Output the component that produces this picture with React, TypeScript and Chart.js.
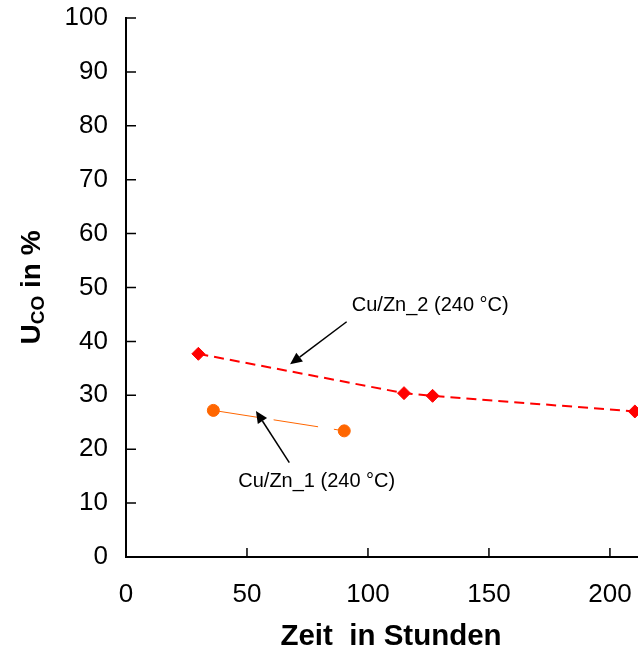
import React, { useEffect, useRef } from "react";
import { Chart, registerables } from "chart.js";

Chart.register(...registerables);

// ---- data ----
const xTickValues = [0, 50, 100, 150, 200];
const yTickValues = [0, 10, 20, 30, 40, 50, 60, 70, 80, 90, 100];
const cuzn2Hours = [29.9, 114.9, 126.7, 210.3];
const cuzn2Uco = [37.7, 30.4, 29.9, 27.0];
const cuzn1Hours = [36.1, 90.2];
const cuzn1Uco = [27.2, 23.4];

// annotations (data coordinates)
const annotationTexts = ["Cu/Zn_2 (240 °C)", "Cu/Zn_1 (240 °C)"];
const annotationTextAt = [
  [93.3, 46.6],
  [46.4, 14.0],
];
const annotationArrowFrom = [
  [91.2, 43.65],
  [67.5, 17.5],
];
const annotationArrowTo = [
  [67.8, 35.75],
  [53.7, 27.1],
];

const xTitle = "Zeit  in Stunden";
const yTitleMain = "U";
const yTitleSub = "CO";
const yTitleRest = " in %";

const FONT = "'Liberation Sans', Arial, sans-serif";

const customPlugin = {
  id: "customDecor",
  afterDraw(chart: any) {
    const { ctx, chartArea, scales } = chart;
    const x = scales.x;
    const y = scales.y;
    ctx.save();

    // inside tick marks
    ctx.strokeStyle = "#000";
    ctx.lineWidth = 1.5;
    ctx.beginPath();
    yTickValues.forEach((v) => {
      const py = y.getPixelForValue(v);
      ctx.moveTo(chartArea.left, py);
      ctx.lineTo(chartArea.left + 10, py);
    });
    xTickValues.forEach((v) => {
      const px = x.getPixelForValue(v);
      ctx.moveTo(px, chartArea.bottom);
      ctx.lineTo(px, chartArea.bottom - 9);
    });
    ctx.stroke();

    // annotations
    ctx.fillStyle = "#000";
    ctx.font = `20px ${FONT}`;
    ctx.textAlign = "left";
    ctx.textBaseline = "middle";
    annotationTexts.forEach((t, i) => {
      const [dx, dy] = annotationTextAt[i];
      ctx.fillText(t, x.getPixelForValue(dx), y.getPixelForValue(dy));
    });

    annotationArrowFrom.forEach((from, i) => {
      const to = annotationArrowTo[i];
      const x1 = x.getPixelForValue(from[0]);
      const y1 = y.getPixelForValue(from[1]);
      const x2 = x.getPixelForValue(to[0]);
      const y2 = y.getPixelForValue(to[1]);
      const ang = Math.atan2(y2 - y1, x2 - x1);
      const headLen = 12;
      const headW = 5.5;
      const bx = x2 - headLen * Math.cos(ang);
      const by = y2 - headLen * Math.sin(ang);
      ctx.strokeStyle = "#000";
      ctx.lineWidth = 1.5;
      ctx.beginPath();
      ctx.moveTo(x1, y1);
      ctx.lineTo(bx, by);
      ctx.stroke();
      ctx.beginPath();
      ctx.moveTo(x2, y2);
      ctx.lineTo(bx + headW * Math.sin(ang), by - headW * Math.cos(ang));
      ctx.lineTo(bx - headW * Math.sin(ang), by + headW * Math.cos(ang));
      ctx.closePath();
      ctx.fill();
    });

    // x title
    ctx.font = `bold 29.5px ${FONT}`;
    ctx.textAlign = "center";
    ctx.textBaseline = "alphabetic";
    ctx.fillText(xTitle, 391, 645);

    // y title with subscript
    ctx.translate(40, (chartArea.top + chartArea.bottom) / 2);
    ctx.rotate(-Math.PI / 2);
    ctx.textAlign = "left";
    const mainFont = `bold 28px ${FONT}`;
    const subFont = `bold 19px ${FONT}`;
    ctx.font = mainFont;
    const wU = ctx.measureText(yTitleMain).width;
    const wRest = ctx.measureText(yTitleRest).width;
    ctx.font = subFont;
    const wSub = ctx.measureText(yTitleSub).width;
    const total = wU + wSub + wRest;
    let sx = -total / 2;
    ctx.font = mainFont;
    ctx.fillText(yTitleMain, sx, 0);
    sx += wU;
    ctx.font = subFont;
    ctx.fillText(yTitleSub, sx, 4);
    sx += wSub;
    ctx.font = mainFont;
    ctx.fillText(yTitleRest, sx, 0);

    ctx.restore();
  },
};

export default function App() {
  const ref = useRef<HTMLCanvasElement | null>(null);

  useEffect(() => {
    document.body.style.margin = "0";
    const canvas = ref.current;
    if (!canvas) return;
    const chart = new Chart(canvas, {
      type: "scatter",
      data: {
        datasets: [
          {
            label: "Cu/Zn_2 (240 °C)",
            data: cuzn2Hours.map((h, i) => ({ x: h, y: cuzn2Uco[i] })),
            showLine: true,
            borderColor: "#FF0000",
            backgroundColor: "#FF0000",
            borderWidth: 2,
            borderDash: [10, 6],
            pointStyle: "rectRot",
            pointRadius: 6.5,
            pointBorderWidth: 1,
            clip: false as any,
          },
          {
            label: "Cu/Zn_1 (240 °C)",
            data: cuzn1Hours.map((h, i) => ({ x: h, y: cuzn1Uco[i] })),
            showLine: true,
            borderColor: "#FF6600",
            backgroundColor: "#FF6600",
            borderWidth: 1,
            borderDash: [45, 16],
            pointStyle: "circle",
            pointRadius: 6,
            pointBorderWidth: 1,
            clip: false as any,
          },
        ],
      },
      options: {
        responsive: false,
        animation: false,
        layout: {
          autoPadding: false,
          padding: { top: 18, right: 0, left: 0, bottom: 0 },
        },
        plugins: {
          legend: { display: false },
          tooltip: { enabled: false },
        },
        scales: {
          x: {
            type: "linear",
            min: 0,
            max: 211.6,
            grid: { display: false, drawTicks: false },
            border: { display: true, color: "#000", width: 2 },
            ticks: {
              stepSize: 50,
              includeBounds: false,
              color: "#000",
              font: { family: FONT, size: 26 },
              padding: 22,
              maxRotation: 0,
            },
            afterFit: (s: any) => {
              s.height = 93;
              s.paddingLeft = 0;
              s.paddingRight = 0;
            },
          },
          y: {
            type: "linear",
            min: 0,
            max: 100,
            grid: { display: false, drawTicks: false },
            border: { display: true, color: "#000", width: 2 },
            ticks: {
              stepSize: 10,
              color: "#000",
              font: { family: FONT, size: 26 },
              padding: 18,
            },
            afterFit: (s: any) => {
              s.width = 126;
              s.paddingTop = 0;
              s.paddingBottom = 0;
            },
          },
        },
      },
      plugins: [customPlugin],
    });
    return () => chart.destroy();
  }, []);

  return (
    <canvas
      ref={ref}
      width={638}
      height={650}
      style={{ display: "block", width: "638px", height: "650px" }}
    />
  );
}
